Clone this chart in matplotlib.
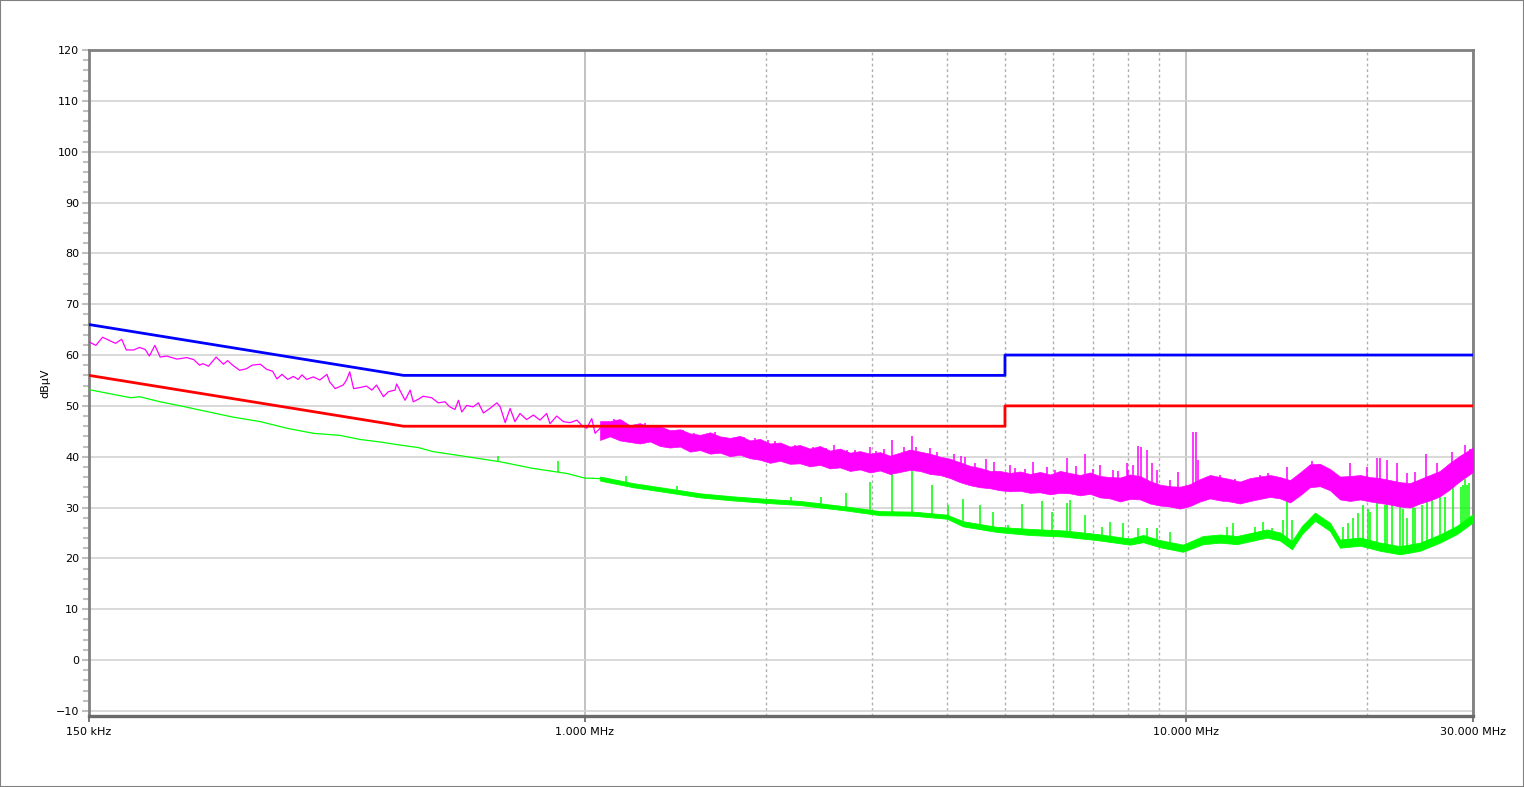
import numpy as np
import matplotlib
matplotlib.use("Agg")
import matplotlib.pyplot as plt
from matplotlib.ticker import FixedLocator, NullFormatter
from matplotlib.patches import Rectangle

# limit lines (MHz, dBuV)
qp_limit_f = [0.15, 0.5, 5.0, 5.0, 30.0]
qp_limit_db = [66, 56, 56, 60, 60]
av_limit_f = [0.15, 0.5, 5.0, 5.0, 30.0]
av_limit_db = [56, 46, 46, 50, 50]

# peak trace, low band (single line)
pk_low_f = [0.150, 0.154, 0.158, 0.166, 0.170, 0.173, 0.178, 0.182, 0.186, 0.189,
            0.193, 0.197, 0.202, 0.210, 0.218, 0.224, 0.229, 0.232, 0.237, 0.244,
            0.251, 0.255, 0.260, 0.267, 0.274, 0.280, 0.289, 0.296, 0.303, 0.308,
            0.314, 0.321, 0.328, 0.334, 0.339, 0.345, 0.354, 0.363, 0.373, 0.377,
            0.385, 0.397, 0.402, 0.407, 0.413, 0.423, 0.434, 0.443, 0.451, 0.463,
            0.472, 0.484, 0.487, 0.493, 0.503, 0.513, 0.519, 0.529, 0.539, 0.557,
            0.571, 0.586, 0.597, 0.609, 0.617, 0.625, 0.637, 0.653, 0.666, 0.679,
            0.696, 0.715, 0.724, 0.738, 0.752, 0.766, 0.781, 0.801, 0.822, 0.843,
            0.865, 0.876, 0.899, 0.922, 0.946, 0.971, 0.989, 1.008, 1.028, 1.041,
            1.061]
pk_low_db = [62.6, 61.9, 63.5, 62.3, 63.1, 61.0, 61.0, 61.5, 61.1, 59.8,
             61.9, 59.6, 59.8, 59.2, 59.5, 59.1, 58.0, 58.3, 57.8, 59.6,
             58.2, 58.9, 58.0, 57.0, 57.3, 58.0, 58.2, 57.2, 56.8, 55.3,
             56.2, 55.2, 55.8, 55.2, 56.1, 55.2, 55.7, 55.1, 56.2, 54.7,
             53.4, 54.1, 55.1, 56.7, 53.4, 53.6, 53.9, 53.1, 54.1, 51.8,
             52.8, 53.1, 54.3, 53.1, 51.1, 53.1, 50.8, 51.3, 51.9, 51.6,
             50.6, 50.8, 49.8, 49.3, 51.1, 48.8, 50.1, 49.8, 50.6, 48.6,
             49.5, 50.6, 49.8, 46.7, 49.5, 46.9, 48.5, 47.3, 48.2, 47.2,
             48.5, 46.5, 48.0, 46.9, 46.7, 47.2, 46.2, 45.6, 47.5, 44.6,
             45.6]

# peak trace, upper band (noise envelope, low / high edge)
pk_band_f = [1.061, 1.102, 1.145, 1.189, 1.236, 1.285, 1.335, 1.387, 1.441, 1.497,
             1.556, 1.617, 1.679, 1.745, 1.813, 1.884, 1.957, 2.034, 2.113, 2.196,
             2.281, 2.370, 2.463, 2.559, 2.658, 2.762, 2.870, 2.983, 3.098, 3.219,
             3.345, 3.475, 3.611, 3.752, 3.900, 4.052, 4.208, 4.373, 4.543, 4.720,
             4.905, 5.096, 5.296, 5.502, 5.717, 5.941, 6.173, 6.413, 6.663, 6.924,
             7.194, 7.474, 7.767, 8.070, 8.385, 8.711, 9.049, 9.404, 9.772, 10.15,
             10.55, 10.96, 11.39, 11.83, 12.29, 12.78, 13.27, 13.79, 14.33, 14.89,
             15.47, 16.07, 16.70, 17.35, 18.03, 18.73, 19.47, 20.22, 21.01, 21.83,
             22.68, 23.56, 24.49, 25.44, 26.43, 27.46, 28.54, 30.0]
pk_band_lo = [43.3, 44.0, 43.2, 42.9, 42.6, 43.0, 42.1, 41.8, 42.0, 41.0,
              41.3, 40.6, 40.8, 40.1, 40.4, 39.7, 39.4, 38.8, 39.2, 38.6,
              38.7, 38.1, 38.4, 37.7, 37.9, 37.2, 37.5, 36.9, 37.3, 36.6,
              37.0, 37.4, 37.2, 36.6, 36.4, 35.8, 35.0, 34.4, 34.0, 33.8,
              33.4, 33.2, 33.3, 32.9, 33.0, 32.6, 32.9, 32.8, 32.4, 32.7,
              32.0, 31.8, 31.2, 31.7, 31.6, 30.8, 30.4, 30.2, 29.8, 30.3,
              31.2, 31.8, 31.4, 31.2, 30.8, 31.3, 31.7, 32.1, 31.8, 31.0,
              32.4, 34.0, 34.2, 33.4, 31.6, 31.3, 31.6, 31.2, 30.9, 30.6,
              30.2, 30.0, 30.8, 31.4, 32.2, 33.6, 35.2, 37.0]
pk_band_hi = [47.0, 47.0, 47.4, 46.2, 46.6, 45.8, 46.0, 45.2, 45.4, 44.6,
              44.3, 44.8, 44.0, 43.7, 44.1, 43.2, 43.5, 42.6, 42.8, 42.0,
              42.3, 41.6, 42.1, 41.2, 41.6, 40.8, 41.1, 40.6, 40.9, 40.2,
              40.8, 41.4, 41.0, 40.6, 40.0, 39.6, 38.9, 38.2, 37.8, 37.2,
              37.2, 36.8, 37.1, 36.6, 37.0, 36.5, 37.2, 36.8, 36.4, 36.9,
              36.2, 36.0, 35.9, 36.5, 36.2, 35.2, 34.5, 34.2, 34.1, 34.6,
              35.6, 36.4, 36.0, 35.6, 35.1, 35.8, 36.1, 36.4, 36.0, 35.4,
              36.9, 38.5, 38.6, 37.6, 36.1, 36.2, 36.4, 36.0, 35.8, 35.4,
              35.0, 34.8, 35.6, 36.4, 37.2, 38.8, 40.2, 41.8]

# peak trace spikes (MHz, top dBuV)
pk_spike_f = [1.12, 1.26, 1.31, 1.46, 1.52, 1.65, 1.84, 1.92, 2.018, 2.07,
              2.113, 2.24, 2.397, 2.472, 2.52, 2.60, 2.731, 2.82, 2.983, 3.05,
              3.15, 3.245, 3.40, 3.502, 3.56, 3.752, 3.85, 4.12, 4.224, 4.29,
              4.45, 4.65, 4.79, 5.096, 5.20, 5.40, 5.567, 5.873, 6.05, 6.340,
              6.55, 6.793, 7.00, 7.194, 7.562, 7.70, 7.854, 7.977, 8.009, 8.163,
              8.319, 8.415, 8.611, 8.780, 8.949, 9.404, 9.696, 10.27, 10.39, 10.47,
              10.83, 11.39, 12.06, 12.63, 13.27, 13.68, 14.72, 16.20, 16.70, 18.73,
              20.00, 20.77, 21.01, 21.59, 22.43, 23.30, 24.01, 25.07, 26.13, 27.64,
              29.08, 29.7]
pk_spike_db = [47.5, 46.6, 46.1, 45.2, 44.6, 44.9, 43.8, 43.6, 43.3, 43.0,
               42.3, 42.4, 42.0, 42.0, 41.8, 42.4, 41.3, 41.4, 42.0, 41.2,
               41.6, 43.3, 42.0, 44.1, 42.0, 41.8, 41.0, 40.6, 40.1, 40.0,
               38.7, 39.6, 39.0, 38.3, 37.8, 37.6, 39.0, 38.0, 37.4, 39.7,
               38.1, 40.6, 37.6, 38.3, 37.4, 37.2, 36.0, 38.7, 37.4, 38.3,
               42.1, 42.0, 41.3, 38.7, 37.4, 35.4, 37.0, 44.8, 44.8, 39.3,
               36.1, 36.4, 35.7, 35.5, 36.4, 36.7, 38.0, 39.2, 38.3, 38.7,
               38.0, 39.7, 39.7, 39.3, 38.7, 36.7, 37.0, 40.5, 38.7, 41.0,
               42.3, 41.6]

# average trace, low band (single line)
av_low_f = [0.150, 0.164, 0.176, 0.182, 0.197, 0.213, 0.229, 0.260, 0.289, 0.320,
            0.354, 0.392, 0.423, 0.457, 0.493, 0.529, 0.560, 0.638, 0.724, 0.821,
            0.935, 1.000, 1.061]
av_low_db = [53.2, 52.3, 51.6, 51.8, 50.8, 50.0, 49.2, 47.8, 46.9, 45.6,
             44.6, 44.2, 43.4, 42.9, 42.3, 41.8, 41.0, 40.0, 39.0, 37.7,
             36.7, 35.8, 35.7]

# average trace, upper band
av_band_f = [1.061, 1.204, 1.371, 1.556, 1.766, 2.012, 2.281, 2.731, 3.098, 3.516,
             4.005, 4.257, 4.850, 5.502, 6.245, 7.112, 8.070, 8.481, 9.049, 9.885,
             10.67, 11.39, 12.15, 13.63, 14.33, 15.00, 15.59, 16.38, 17.35, 18.03,
             19.47, 21.01, 22.68, 24.49, 26.43, 28.21, 30.0]
av_band_lo = [35.3, 34.0, 33.0, 32.0, 31.4, 30.9, 30.5, 29.4, 28.5, 28.4,
              27.8, 26.3, 25.2, 24.6, 24.3, 23.6, 22.7, 23.2, 22.2, 21.3,
              22.8, 23.1, 22.8, 24.1, 23.5, 21.8, 24.8, 27.4, 25.4, 22.1,
              22.5, 21.5, 20.8, 21.5, 23.1, 24.8, 27.1]
av_band_hi = [36.1, 34.8, 33.8, 32.8, 32.2, 31.7, 31.3, 30.2, 29.3, 29.2,
              28.6, 27.3, 26.2, 25.8, 25.5, 24.8, 23.9, 24.6, 23.6, 22.7,
              24.4, 24.7, 24.4, 25.7, 25.1, 23.4, 26.4, 29.0, 27.0, 23.7,
              24.1, 23.1, 22.4, 23.1, 24.7, 26.4, 28.7]

# average trace spikes (MHz, top dBuV)
av_spike_f = [0.718, 0.903, 1.172, 1.425, 2.205, 2.472, 2.721, 2.983, 3.245, 3.502,
              3.781, 4.020, 4.257, 4.543, 4.775, 5.057, 5.336, 5.761, 5.985, 6.340,
              6.413, 6.793, 7.248, 7.474, 7.854, 8.319, 8.611, 8.949, 9.404, 11.70,
              11.97, 13.02, 13.43, 13.89, 14.49, 14.72, 15.00, 18.24, 18.59, 18.94,
              19.31, 19.68, 20.07, 20.22, 20.77, 21.41, 21.59, 21.99, 22.68, 22.94,
              23.30, 23.83, 24.01, 24.66, 25.14, 25.63, 26.43, 26.94, 27.78, 28.65,
              28.9, 29.08, 29.3, 29.6]
av_spike_db = [40.1, 39.1, 36.2, 34.2, 32.1, 32.1, 32.8, 35.1, 37.0, 37.2,
               34.4, 30.5, 31.6, 30.5, 29.2, 26.5, 30.7, 31.3, 29.2, 30.9,
               31.5, 28.5, 26.2, 27.2, 26.9, 25.9, 25.9, 25.9, 25.2, 26.2,
               26.9, 26.2, 27.2, 25.9, 27.5, 32.1, 27.5, 26.2, 26.9, 27.9,
               28.9, 30.5, 29.8, 29.2, 31.2, 30.5, 31.2, 31.5, 30.2, 29.8,
               27.9, 31.2, 29.9, 30.5, 31.2, 32.1, 32.1, 32.1, 34.1, 34.1,
               34.4, 35.7, 34.4, 34.8]

x_ticks = [0.15, 1.0, 10.0, 30.0]
x_tick_labels = ["150 kHz", "1.000 MHz", "10.000 MHz", "30.000 MHz"]
x_minor = [2, 3, 4, 5, 6, 7, 8, 9, 20]

MAGENTA = "#ff00ff"
GREEN = "#00ff00"

fig = plt.figure(figsize=(15.24, 7.87), dpi=100)
ax = fig.add_axes([89 / 1524, 71 / 787, 1384 / 1524, 666 / 787])

# spikes: drawn from the band centre up to the read peak value
pk_mid = (np.array(pk_band_lo) + np.array(pk_band_hi)) / 2
pk_all_f = pk_low_f + pk_band_f[1:]
pk_all_mid = list(pk_low_db) + list(pk_mid[1:])
pk_foot = np.interp(np.log10(pk_spike_f), np.log10(pk_all_f), pk_all_mid)
av_mid = (np.array(av_band_lo) + np.array(av_band_hi)) / 2
av_all_f = av_low_f + av_band_f[1:]
av_all_mid = list(av_low_db) + list(av_mid[1:])
av_foot = np.interp(np.log10(av_spike_f), np.log10(av_all_f), av_all_mid)

ax.vlines(av_spike_f, av_foot, av_spike_db, color=GREEN, lw=1.1, zorder=3)
ax.plot(av_low_f, av_low_db, color=GREEN, lw=0.9, zorder=3)
ax.fill_between(av_band_f, av_band_lo, av_band_hi, color=GREEN, lw=0.6, zorder=3)

ax.vlines(pk_spike_f, pk_foot, pk_spike_db, color=MAGENTA, lw=1.1, zorder=4)
ax.plot(pk_low_f, pk_low_db, color=MAGENTA, lw=0.9, zorder=4)
ax.fill_between(pk_band_f, pk_band_lo, pk_band_hi, color=MAGENTA, lw=0.5, zorder=4)

ax.plot(qp_limit_f, qp_limit_db, color="#0000ff", lw=2, zorder=5)
ax.plot(av_limit_f, av_limit_db, color="#ff0000", lw=2, zorder=5)

ax.set_xscale("log")
ax.set_xlim(0.15, 30)
ax.set_ylim(-11, 120)

ax.set_xticks(x_ticks)
ax.set_xticklabels(x_tick_labels)
ax.xaxis.set_minor_locator(FixedLocator(x_minor))
ax.xaxis.set_minor_formatter(NullFormatter())
ax.set_yticks(np.arange(-10, 121, 10))
ax.yaxis.set_minor_locator(FixedLocator(np.arange(-10, 121, 2)))

ax.tick_params(axis="x", which="major", length=4, width=1.2, color="#606060",
               labelsize=8, pad=4)
ax.tick_params(axis="x", which="minor", length=0)
ax.tick_params(axis="y", which="major", length=5, width=1.5, color="#c0c0c0",
               labelsize=8, pad=2)
ax.tick_params(axis="y", which="minor", length=4, width=1.5, color="#c0c0c0")

ax.grid(axis="y", which="major", color="#d3d3d3", lw=1.2)
ax.grid(axis="x", which="major", color="#b8b8b8", lw=1.2)
ax.grid(axis="x", which="minor", color="#b0b0b0", lw=1.0, ls=(0, (2, 2)))
ax.set_axisbelow(True)

for side in ["left", "top", "right"]:
    ax.spines[side].set_color("#808080")
    ax.spines[side].set_linewidth(2)
ax.spines["bottom"].set_color("#6a6a6a")
ax.spines["bottom"].set_linewidth(2.4)

ax.set_ylabel("dBµV", fontsize=8, labelpad=4)

fig.patches.append(Rectangle((0, 0), 1, 1, transform=fig.transFigure, fill=False,
                             ec="#808080", lw=1.5))

fig.savefig("out.png", dpi=100)
plt.close(fig)
